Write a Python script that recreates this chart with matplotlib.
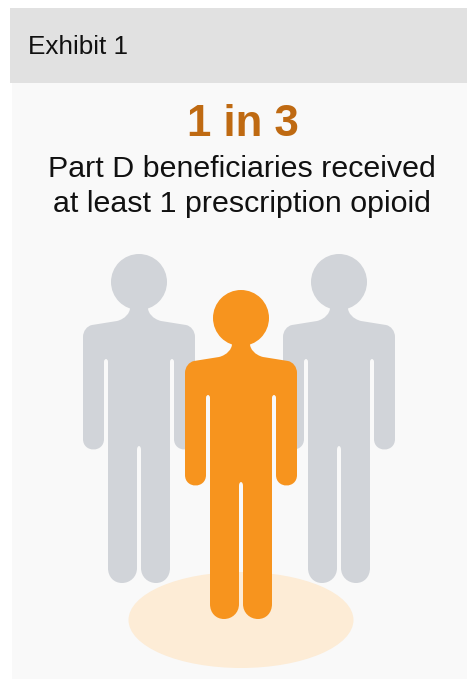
import matplotlib
matplotlib.use("Agg")
import matplotlib.pyplot as plt
from matplotlib.path import Path
from matplotlib.patches import PathPatch, Circle, Ellipse, Rectangle

plt.rcParams['font.family'] = ['Liberation Sans', 'DejaVu Sans']

# Content
header = "Exhibit 1"
headline = "1 in 3"
subtitle = ["Part D beneficiaries received", "at least 1 prescription opioid"]
people = ["other", "other", "highlighted"]   # draw order: left, right, front

# Layout (pixels)
W, H = 467, 679
cx_map = [139, 339, 241]
cy_map = [282, 282, 318]
col_map = {"other": "#d1d4d9", "highlighted": "#f7941e"}
HEAD_R = 28

fig = plt.figure(figsize=(W / 100, H / 100), dpi=100, facecolor="white")
ax = fig.add_axes([0, 0, 1, 1])
ax.set_xlim(0, W)
ax.set_ylim(H, 0)
ax.axis("off")

ax.add_patch(Rectangle((12, 83), W - 12, H - 83, fc="#f9f9f9", ec="none"))
ax.add_patch(Rectangle((10, 8), W - 10, 75, fc="#e1e1e1", ec="none"))
ax.add_patch(Ellipse((241, 620), 225, 96, fc="#fdecd6", ec="none"))


def body_path(cx, cy):
    M, L, C = Path.MOVETO, Path.LINETO, Path.CURVE4
    r = 10.5 * 4 / 3
    # right half outline, from the neck down to the centre of the crotch
    half = [
        ((9, 26), M),
        ((9, 31), C), ((14, 37), C), ((22, 39), C),
        ((47, 43), L),
        ((52, 44), C), ((56, 49), C), ((56, 55), C),
        ((56, 157), L),
        ((56, 157 + r), C), ((35, 157 + r), C), ((35, 157), C),
        ((35, 80), L),
        ((35, 76), C), ((31, 76), C), ((31, 80), C),
        ((31, 286), L),
        ((31, 295), C), ((25, 301), C), ((17, 301), C),
        ((9, 301), C), ((2, 295), C), ((2, 286), C),
        ((2, 168), L),
        ((2, 164), C), ((0, 164), C), ((0, 164), C),
    ]
    verts = [p for p, _ in half]
    codes = [c for _, c in half]
    # mirrored half, walking back up to the neck
    rev = [(-x, y) for x, y in verts[::-1]]
    rev_codes = codes[1:][::-1]
    verts = verts + rev[1:]
    codes = codes + rev_codes
    verts.append(verts[0])
    codes.append(Path.CLOSEPOLY)
    return Path([(cx + x, cy + y) for x, y in verts], codes)


for kind, cx, cy in zip(people, cx_map, cy_map):
    color = col_map[kind]
    ax.add_patch(PathPatch(body_path(cx, cy), fc=color, ec="none"))
    ax.add_patch(Circle((cx, cy), HEAD_R, fc=color, ec="none"))

ax.text(28, 47.5, header, fontsize=18.8, color="#111111", va="center", ha="left")
ax.text(243, 124.5, headline, fontsize=31.5, fontweight="bold", color="#bf6a12", va="center", ha="center")
ax.text(241.5, 169, subtitle[0], fontsize=21.9, color="#111111", va="center", ha="center")
ax.text(241.5, 204, subtitle[1], fontsize=21.9, color="#111111", va="center", ha="center")

fig.savefig("out.png", dpi=100, facecolor="white")
